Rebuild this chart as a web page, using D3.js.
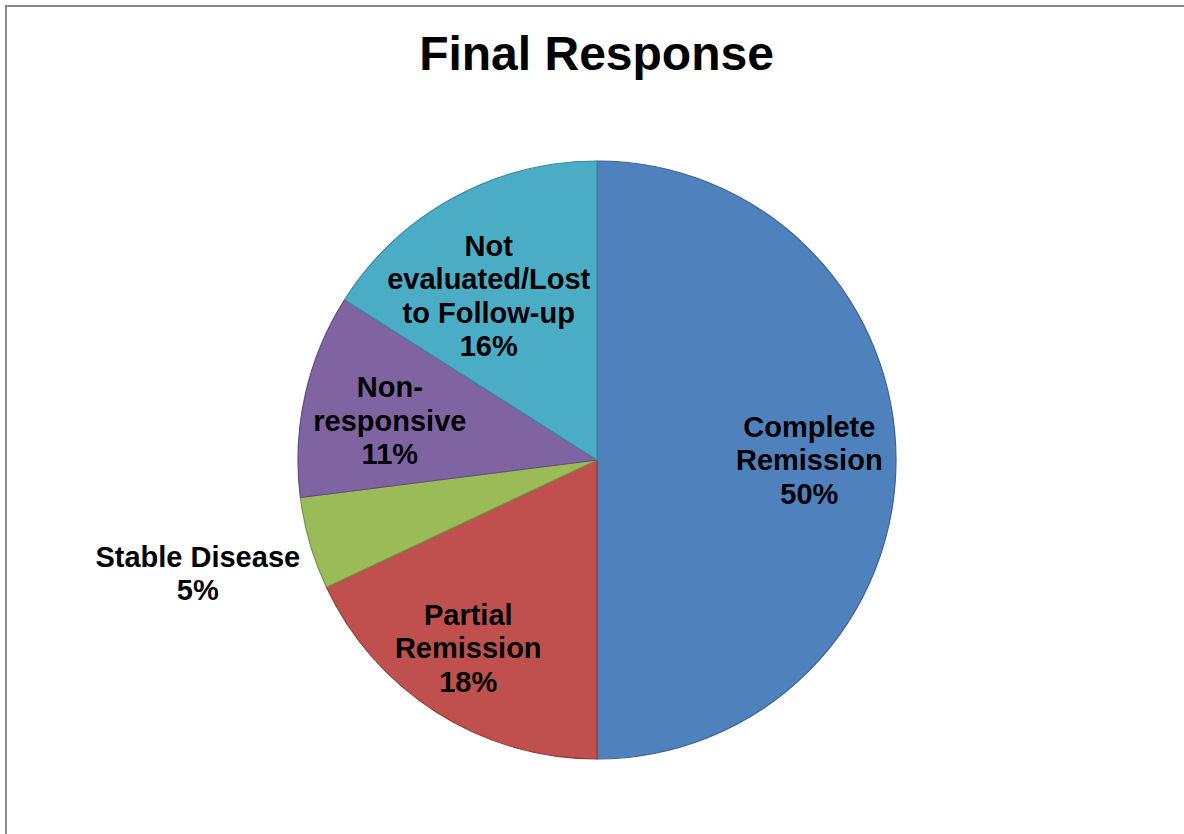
<!DOCTYPE html>
<html>
<head>
<meta charset="utf-8">
<script src="https://cdn.jsdelivr.net/npm/d3@7"></script>
<style>
  html, body { margin: 0; padding: 0; background: #fff; }
  svg { display: block; }
</style>
</head>
<body>
<svg id="chart" width="1184" height="834"></svg>
<script>
// ---- Data ----
const title = "Final Response";
const categories = ["Complete Remission", "Partial Remission", "Stable Disease", "Non-responsive", "Not evaluated/Lost to Follow-up"];
const values = [50, 18, 5, 11, 16];
const labelLines = [
  ["Complete", "Remission"],
  ["Partial", "Remission"],
  ["Stable Disease"],
  ["Non-", "responsive"],
  ["Not", "evaluated/Lost", "to Follow-up"]
];

// ---- Styles / layout ----
const fillColors = ["#4F81BD", "#C0504D", "#9BBB59", "#8064A2", "#4BACC6"];
const strokeColors = ["#3A6494", "#943C3A", "#789445", "#624C7E", "#3A8AA0"];
// small label nudges (px) mimicking the spreadsheet's best-fit placement
const labelNudgeX = [0, -15, -3, 0, -6];
const labelNudgeY = [0, 9, -2, 7, 22];

const W = 1184, H = 834;
const cx = 597, cy = 460, R = 299;
const fontFamily = "'Liberation Sans', Arial, Helvetica, sans-serif";
const labelSize = 29, lineH = 33.5;

const svg = d3.select("#chart");

// outer chart border (extends off-canvas right/bottom)
svg.append("rect")
  .attr("x", 6).attr("y", 6)
  .attr("width", W + 10).attr("height", H + 10)
  .attr("fill", "#fff")
  .attr("stroke", "#898989").attr("stroke-width", 2);

svg.append("text")
  .attr("x", 596.5).attr("y", 70)
  .attr("text-anchor", "middle")
  .attr("font-family", fontFamily)
  .attr("font-weight", "bold")
  .attr("font-size", 48)
  .attr("fill", "#000")
  .text(title);

const total = d3.sum(values);
const pie = d3.pie().sort(null).value(d => d.value);
const data = categories.map((c, i) => ({ name: c, value: values[i], lines: labelLines[i], i }));
const arcs = pie(data);

const arc = d3.arc().innerRadius(0).outerRadius(R);
const g = svg.append("g").attr("transform", `translate(${cx},${cy})`);

g.selectAll("path.slice")
  .data(arcs)
  .join("path")
  .attr("class", "slice")
  .attr("d", arc)
  .attr("fill", d => fillColors[d.data.i])
  .attr("stroke", d => strokeColors[d.data.i])
  .attr("stroke-width", 1.2)
  .attr("stroke-linejoin", "round");

// labels: inside for larger slices, outside for small ones
const inArc = d3.arc().innerRadius(R * 0.71).outerRadius(R * 0.71);
const outArc = d3.arc().innerRadius(R * 1.38).outerRadius(R * 1.38);
const fmt = d3.format(".0%");

g.selectAll("text.lbl")
  .data(arcs)
  .join("text")
  .attr("class", "lbl")
  .attr("text-anchor", "middle")
  .attr("font-family", fontFamily)
  .attr("font-weight", "bold")
  .attr("font-size", labelSize)
  .attr("fill", "#000")
  .each(function(d) {
    const share = d.value / total;
    const c = (share < 0.08 ? outArc : inArc).centroid(d);
    const x = c[0] + labelNudgeX[d.data.i];
    const y = c[1] + labelNudgeY[d.data.i];
    const lines = d.data.lines.concat([fmt(share)]);
    const n = lines.length;
    const firstBaseline = y - (n - 1) * lineH / 2 + labelSize * 0.35;
    const t = d3.select(this);
    lines.forEach((ln, k) => {
      t.append("tspan")
        .attr("x", x)
        .attr("y", firstBaseline + k * lineH)
        .text(ln);
    });
  });
</script>
</body>
</html>
